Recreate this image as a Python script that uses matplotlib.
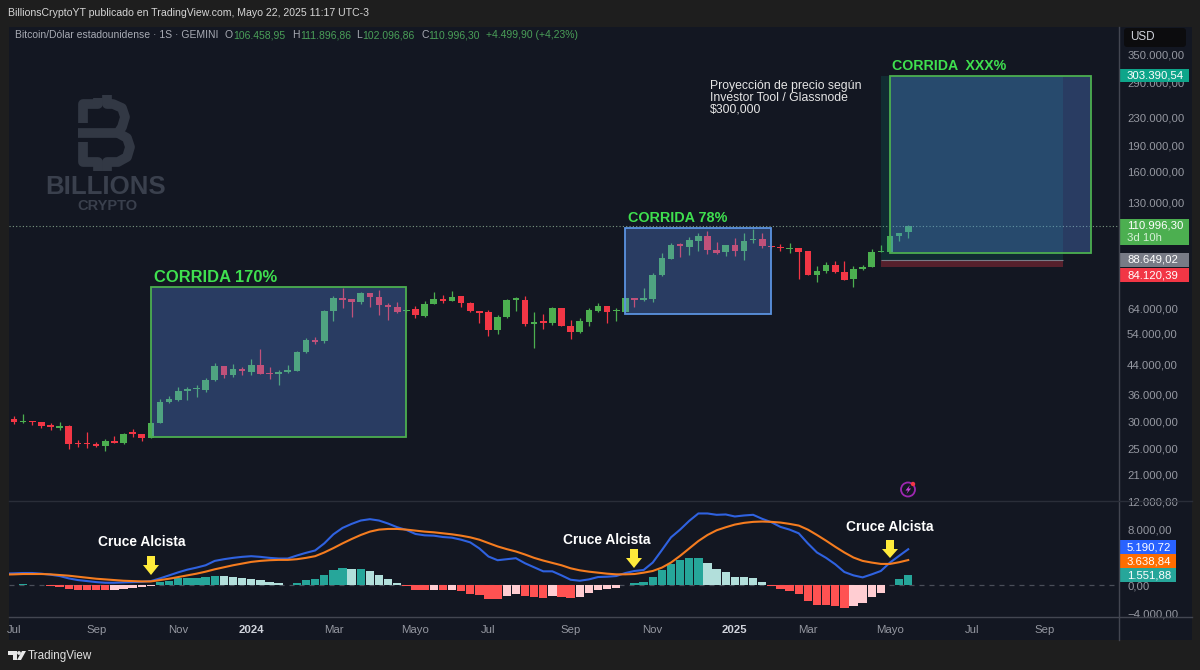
import matplotlib
matplotlib.use('Agg')
import matplotlib.pyplot as plt
from matplotlib.patches import Rectangle, Polygon, Circle, FancyBboxPatch
from matplotlib.ticker import NullLocator

plt.rcParams['font.family'] = ['Liberation Sans', 'DejaVu Sans']

BG = '#131722'
OUTER = '#1e1e1e'
GREEN = '#4caf50'
RED = '#f23645'
AXIS_TXT = '#9598a1'

# weekly candles
opens = [30460, 29860, 30180, 29860, 29260, 28790, 29120, 26040, 26040, 25770,
         25530, 26340, 25940, 27920, 27660, 26910, 29780, 34200, 34660, 36890,
         37230, 37140, 39620, 43420, 40890, 42730, 41880, 43710, 41600, 41240,
         41710, 42080, 47780, 51770, 51320, 62740, 68560, 68100, 66750, 70900,
         68880, 65430, 64570, 62740, 63700, 60920, 65860, 68240, 67200, 69350,
         66320, 62860, 62290, 55460, 60260, 67790, 67790, 57610, 58660, 57880,
         64000, 56970, 54510, 58510, 62980, 65140, 62740, 62560, 68560, 67510,
         68240, 79960, 88990, 98190, 96420, 100590, 103800, 94330, 93140, 97730,
         93890, 100860, 101950, 96880, 96240, 95340, 95790, 93890, 80120, 81980,
         85660, 81760, 77860, 83070, 84510, 93320, 93510, 103800, 106459]
closes = [29860, 30060, 29910, 29070, 28870, 29120, 25880, 25820, 25820, 25530,
          26290, 25940, 27660, 27600, 26820, 29780, 34270, 34820, 36810, 37310,
          37480, 39700, 43420, 40970, 42730, 41990, 43710, 41330, 41330, 41790,
          42270, 47880, 51770, 51080, 62740, 68560, 67790, 66750, 70900, 68880,
          65300, 64450, 62560, 63400, 61000, 65860, 68100, 67200, 69170, 66170,
          62740, 62120, 55460, 60500, 67790, 68420, 57610, 58260, 58110, 64000,
          56860, 54510, 58780, 63280, 65140, 62470, 63150, 68560, 67510, 68420,
          79960, 89400, 97530, 97080, 100860, 104010, 94330, 92880, 97730, 93700,
          100590, 101950, 97080, 96240, 95660, 95980, 93580, 80120, 82140, 85660,
          81760, 77490, 83240, 84340, 93320, 93700, 103800, 106100, 110996]
highs = [31140, 31560, 30180, 29860, 29720, 29980, 29320, 26470, 27920, 26120,
         26750, 27290, 27730, 28490, 27660, 29850, 34820, 35660, 37730, 37880,
         38310, 40080, 44300, 43600, 44010, 43300, 45600, 48750, 43130, 42360,
         43710, 48100, 52350, 52720, 63280, 69490, 73310, 68100, 71240, 70900,
         72330, 66450, 66890, 63400, 65000, 67330, 71500, 69960, 71700, 69350,
         66630, 62860, 63280, 61080, 67970, 68880, 69490, 62290, 61480, 64700,
         64000, 59180, 60120, 64000, 66170, 65140, 64000, 68560, 68560, 73310,
         81060, 92900, 99280, 98860, 103340, 105680, 107540, 99460, 97730, 102220,
         105680, 108760, 105680, 96880, 98390, 98860, 95790, 94080, 84920, 87050,
         87980, 87980, 85090, 85490, 95160, 97730, 104500, 106100, 111897]
lows = [29580, 29780, 29320, 28740, 28360, 28420, 24970, 25260, 25190, 25260,
        24680, 25940, 25820, 27000, 26340, 26800, 29660, 33900, 34500, 34660,
        35280, 36640, 39440, 40080, 40340, 40970, 40970, 41160, 39970, 38310,
        41600, 41990, 47560, 50410, 50640, 58900, 63990, 60260, 66000, 64450,
        61200, 59180, 62120, 62470, 59870, 60500, 65860, 66170, 67200, 64700,
        62560, 58110, 53170, 53880, 60120, 62980, 56970, 48970, 55840, 57350,
        56750, 52110, 54380, 56970, 62290, 57880, 58660, 62560, 64700, 67330,
        66630, 79580, 88810, 89970, 91410, 93700, 92020, 91840, 90980, 90980,
        88400, 99080, 95790, 95980, 94080, 92880, 77860, 79960, 76160, 80880,
        81200, 77340, 73950, 82860, 84340, 93140, 93320, 100170, 102097]

# MACD pane, starts one bar earlier than the candles (cut by the left edge)
hist = [70, 100, 190, 100, 60, -80, -190, -480, -580, -670, -680,
        -720, -630, -480, -390, -290, -100, 480, 580, 1060, 1110,
        1120, 1200, 1350, 1300, 1200, 1060, 960, 720, 480, 340,
        100, 390, 770, 870, 1540, 2270, 2550, 2400, 2410, 2070,
        1450, 960, 340, -150, -630, -640, -580, -630, -580, -820,
        -1160, -1400, -1980, -1990, -1490, -1160, -1540, -1690, -1830, -1450,
        -1590, -1830, -1590, -1110, -670, -530, -390, 50, 340, 480,
        1200, 2220, 3130, 3610, 3950, 4000, 3230, 2410, 1930, 1250,
        1200, 1060, 480, -150, -480, -820, -1200, -2270, -2840, -2850,
        -2990, -3230, -2940, -2550, -1690, -1010, 50, 870, 1552]
macd_line = [1700, 1735, 1783, 1783, 1687, 1542, 1350, 1012, 771, 627, 482,
             386, 386, 434, 482, 530, 627, 1012, 1446, 1880, 2265,
             2555, 2892, 3519, 3760, 3952, 4097, 4193, 4097, 3952, 3856,
             3856, 4290, 4675, 5013, 6025, 7326, 8242, 8821, 9303, 9495,
             9303, 8869, 8339, 7953, 7375, 7182, 7134, 6941, 6844, 6555,
             6170, 5302, 4145, 3615, 3760, 3904, 3181, 2603, 2024, 2024,
             1446, 819, 675, 868, 1205, 1253, 1350, 1783, 2073, 2217,
             3278, 5061, 6893, 8001, 9254, 10315, 10315, 10122, 10170, 9881,
             10026, 10122, 9544, 9062, 8387, 8001, 7471, 6025, 4724, 3952,
             3037, 1928, 1446, 1157, 1591, 2073, 3278, 4242, 5191]
signal_line = [1560, 1591, 1639, 1639, 1639, 1591, 1494, 1398, 1253, 1109, 964,
               868, 771, 675, 627, 578, 578, 771, 964, 1205, 1446,
               1687, 1976, 2314, 2603, 2892, 3133, 3374, 3519, 3615, 3663,
               3663, 3760, 3952, 4193, 4724, 5350, 6025, 6652, 7230, 7712,
               8001, 8098, 8098, 8001, 7857, 7712, 7616, 7471, 7326, 7134,
               6893, 6555, 6073, 5591, 5206, 4868, 4434, 3952, 3567, 3229,
               2892, 2458, 2169, 1976, 1832, 1687, 1591, 1591, 1639, 1832,
               2073, 2555, 3278, 4242, 5302, 6362, 7230, 7905, 8339, 8724,
               8965, 9110, 9158, 9110, 9013, 8821, 8580, 8001, 7230, 6411,
               5543, 4724, 4001, 3519, 3278, 3085, 3085, 3326, 3639]

price_ticks = [350000, 290000, 230000, 190000, 160000, 130000, 64000,
               54000, 44000, 36000, 30000, 25000, 21000]
price_labels = ['350.000,00', '290.000,00', '230.000,00', '190.000,00', '160.000,00',
                '130.000,00', '64.000,00', '54.000,00', '44.000,00', '36.000,00',
                '30.000,00', '25.000,00', '21.000,00']
macd_ticks = [12000, 8000, 0, -4000]
macd_labels = ['12.000,00', '8.000,00', '0,00', '\u22124.000,00']
time_ticks = [0, 9, 18, 26, 35, 44, 52, 61, 70, 79, 87, 96, 105, 113]
time_labels = ['Jul', 'Sep', 'Nov', '2024', 'Mar', 'Mayo', 'Jul', 'Sep', 'Nov',
               '2025', 'Mar', 'Mayo', 'Jul', 'Sep']

# boxes drawn on the chart: x in bars, y in price
run_1 = (15, 43, 27000, 73690)
run_2 = (67, 83, 61500, 109200)
run_3 = (96, 118, 92900, 303390)
long_pos = (95, 115, 84120, 88649, 303390)
last_price = 110996


def pane(left, top, right, bottom):
    W, H = 1200.0, 670.0
    return [left / W, 1 - bottom / H, (right - left) / W, (bottom - top) / H]


def pixel_layer(z):
    a = fig.add_axes([0, 0, 1, 1], zorder=z)
    a.set_xlim(0, 1200)
    a.set_ylim(670, 0)
    a.axis('off')
    a.patch.set_alpha(0)
    return a


fig = plt.figure(figsize=(12, 6.7), dpi=100, facecolor=OUTER)
back = pixel_layer(0)
back.add_patch(Rectangle((9, 27), 1183, 613, color=BG, lw=0))

# watermark sits under the candles
mark = '#323844'
for path in [[(98, 98), (98, 104), (83, 104), (83, 123)],
             [(107, 95), (107, 104), (113, 104), (122, 108), (125, 117), (122, 127), (118, 133), (78, 133)],
             [(118, 133), (127, 138), (130, 147), (127, 157), (118, 162), (107, 162), (107, 171)],
             [(83, 142), (83, 162), (98, 162), (98, 171)]]:
    back.plot(*zip(*path), color=mark, lw=7, solid_capstyle='butt', solid_joinstyle='round')
back.text(106, 187.5, 'BILLIONS', color='#3a404d', fontsize=18.6, fontweight='bold', ha='center', va='center')
back.text(107, 205.5, 'CRYPTO', color='#3a404d', fontsize=10.5, fontweight='bold', ha='center', va='center')

x = list(range(len(opens)))
ax = fig.add_axes(pane(9, 27, 1119, 500), zorder=1)
ax.patch.set_alpha(0)
ax.set_yscale('log')
ax.set_xlim(-0.55, 121.1)
ax.set_ylim(17755, 420100)

for i in x:
    c = GREEN if closes[i] >= opens[i] else RED
    ax.vlines(i, lows[i], highs[i], color=c, lw=0.9, zorder=2)
    ax.bar(i, abs(closes[i] - opens[i]), bottom=min(opens[i], closes[i]), width=0.72, color=c, lw=0, zorder=3)

ax.axhline(last_price, color='#7d9a85', lw=0.8, ls=(0, (1, 2)), zorder=4)

ax.add_patch(Rectangle((long_pos[0], long_pos[3]), long_pos[1] - long_pos[0], long_pos[4] - long_pos[3],
                       color='#089981', alpha=0.17, lw=0, zorder=4))
ax.add_patch(Rectangle((long_pos[0], long_pos[2]), long_pos[1] - long_pos[0], long_pos[3] - long_pos[2],
                       color=RED, alpha=0.3, lw=0, zorder=4))
ax.hlines(long_pos[3], long_pos[0], long_pos[1], color='#787b86', lw=0.8, zorder=4)

for box, edge in [(run_1, GREEN), (run_2, '#5b93e0'), (run_3, GREEN)]:
    w = box[1] - box[0]
    h = box[3] - box[2]
    ax.add_patch(Rectangle((box[0], box[2]), w, h, facecolor=(88 / 255, 140 / 255, 235 / 255, 0.32), lw=0, zorder=5))
    ax.add_patch(Rectangle((box[0], box[2]), w, h, fill=False, edgecolor=edge, lw=1.3, zorder=6))

ax.yaxis.tick_right()
ax.set_yticks(price_ticks)
ax.set_yticklabels(price_labels)
ax.yaxis.set_minor_locator(NullLocator())
ax.tick_params(axis='y', length=0, pad=5.8, labelsize=8.2, labelcolor=AXIS_TXT)
ax.set_xticks([])
for s in ax.spines.values():
    s.set_visible(False)

x_macd = list(range(-1, len(opens)))
ax2 = fig.add_axes(pane(9, 501, 1119, 617), zorder=1)
ax2.patch.set_alpha(0)
ax2.set_xlim(-0.55, 121.1)
ax2.set_ylim(-4520, 12100)
ax2.axhline(0, color='#4a4e59', lw=0.9, ls=(0, (4, 4)), zorder=1)

bar_colors = []
for i, v in enumerate(hist):
    prev = hist[i - 1] if i else 0
    if v >= 0:
        bar_colors.append('#26a69a' if v > prev else '#b2dfdb')
    else:
        bar_colors.append('#ff5252' if v < prev else '#ffcdd2')
ax2.bar(x_macd, hist, width=0.92, color=bar_colors, lw=0, zorder=2)
ax2.plot(x_macd, macd_line, color='#2f62e0', lw=1.5, zorder=3)
ax2.plot(x_macd, signal_line, color='#f57c1f', lw=1.5, zorder=4)

ax2.yaxis.tick_right()
ax2.set_yticks(macd_ticks)
ax2.set_yticklabels(macd_labels)
ax2.set_xticks(time_ticks)
ax2.set_xticklabels(time_labels)
ax2.tick_params(axis='y', length=0, pad=5.8, labelsize=8.2, labelcolor=AXIS_TXT)
ax2.tick_params(axis='x', length=0, pad=6, labelsize=8.2, labelcolor=AXIS_TXT)
for t, lab in zip(ax2.get_xticklabels(), time_labels):
    if lab.startswith('20'):
        t.set_fontweight('bold')
        t.set_color('#d1d4dc')
for s in ax2.spines.values():
    s.set_visible(False)

top = pixel_layer(5)
# pane borders
top.plot([1119, 1119], [27, 640], color='#434651', lw=1)
top.plot([9, 1192], [500.5, 500.5], color='#2a2e39', lw=1)
top.plot([9, 1192], [617, 617], color='#434651', lw=1)

top.text(8, 13, 'BillionsCryptoYT publicado en TradingView.com, Mayo 22, 2025 11:17 UTC-3',
         color='#d6d6d6', fontsize=7.55, va='center')
legend_bits = [(15, 'Bitcoin/D\u00f3lar estadounidense \u00b7 1S \u00b7 GEMINI', '#a8abb4'),
               (224.5, 'O', '#a8abb4'), (233, '106.458,95', '#4a9f58'),
               (292, 'H', '#a8abb4'), (300, '111.896,86', '#4a9f58'),
               (356, 'L', '#a8abb4'), (362, '102.096,86', '#4a9f58'),
               (421.5, 'C', '#a8abb4'), (428, '110.996,30', '#4a9f58'),
               (486, '+4.499,90 (+4,23%)', '#4a9f58')]
for px, s, c in legend_bits:
    top.text(px, 35.5, s, color=c, fontsize=7.5, va='center')

for px, py, s, fs in [(154, 277, 'CORRIDA 170%', 11.9), (628, 218, 'CORRIDA 78%', 10.4),
                      (892, 66, 'CORRIDA  XXX%', 10.2)]:
    top.text(px, py, s, color='#3fe04f', fontsize=fs, fontweight='bold', va='center')
for py, s in [(86, 'Proyecci\u00f3n de precio seg\u00fan'), (98, 'Investor Tool / Glassnode'), (109.5, '$300,000')]:
    top.text(710, py, s, color='#e6e6e6', fontsize=8.8, va='center')

for tx, ty, ax_x, y0, y1 in [(142, 542, 151, 556, 575), (607, 540, 634, 549, 568), (890, 527, 890, 540, 558)]:
    top.text(tx, ty, 'Cruce Alcista', color='white', fontsize=9.9, fontweight='bold', ha='center', va='center')
    top.add_patch(Polygon([(ax_x - 4, y0), (ax_x + 4, y0), (ax_x + 4, y0 + 9), (ax_x + 8, y0 + 9),
                           (ax_x, y1), (ax_x - 8, y0 + 9), (ax_x - 4, y0 + 9)], color='#ffeb3b', lw=0))

# price scale tags
for y0, h, s, c, w in [(69, 13, '303.390,54', '#0ea58a', 69), (253, 14, '88.649,02', '#787b86', 69),
                       (268, 14, '84.120,39', RED, 69), (540, 14, '5.190,72', '#2962ff', 56),
                       (554, 14, '3.638,84', '#ff6d00', 56), (568, 14, '1.551,88', '#26a69a', 56)]:
    top.add_patch(Rectangle((1119.5, y0), w, h, color=c, lw=0))
    top.text(1127, y0 + h / 2, s, color='white', fontsize=8.2, va='center')
top.add_patch(Rectangle((1119.5, 219), 69, 26, color=GREEN, lw=0))
top.text(1127, 226, '110.996,30', color='white', fontsize=8.2, va='center')
top.text(1127, 238, '3d 10h', color='#d5efd6', fontsize=8.2, va='center')

top.add_patch(FancyBboxPatch((1125, 29), 60, 17, boxstyle='round,pad=1,rounding_size=3', color='#0c0c0e', lw=0))
top.text(1130, 37, 'USD', color='#d1d4dc', fontsize=8.4, va='center')

# lightning icon
top.add_patch(Circle((908, 489.5), 7, fill=False, edgecolor='#9c27b0', lw=1.3))
top.add_patch(Polygon([(910, 485), (905.5, 490.5), (908, 490.5), (906.5, 494), (911, 488.5), (908.5, 488.5)],
                      color='#c73fd8', lw=0))
top.add_patch(Circle((913, 484), 2.2, color=RED, lw=0))

# TradingView logo
top.add_patch(Polygon([(8, 651), (17, 651), (17, 660), (13, 660), (13, 655), (8, 655)], color='#e8e8e8', lw=0))
top.add_patch(Circle((19, 653), 1.9, color='#e8e8e8', lw=0))
top.add_patch(Polygon([(22, 651), (26, 651), (21, 660), (17, 660)], color='#e8e8e8', lw=0))
top.text(28, 656, 'TradingView', color='#e0e0e0', fontsize=8.4, va='center')

fig.savefig('out.png', dpi=100, facecolor=fig.get_facecolor())
